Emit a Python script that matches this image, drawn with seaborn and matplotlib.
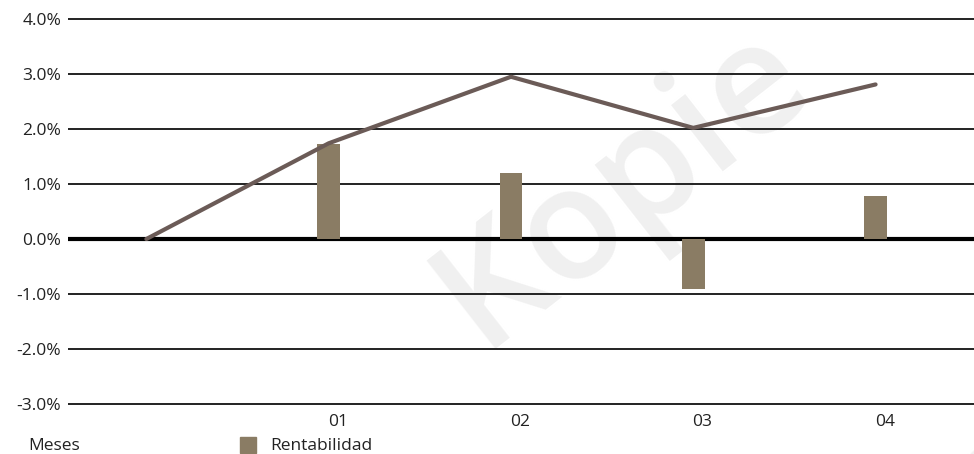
import seaborn as sns
import matplotlib.pyplot as plt
import numpy as np
import pandas as pd

# rentabilidad mensual (%) y rentabilidad acumulada (%)
meses = ['', '01', '02', '03', '04']
rent_mensual = [1.73, 1.20, -0.91, 0.78]
rent_acum = [0.0, 1.74, 2.95, 2.02, 2.81]
yticks = [-3, -2, -1, 0, 1, 2, 3, 4]

sns.set_style('white')
plt.rcParams['font.family'] = ['Open Sans', 'DejaVu Sans']

pos = np.arange(len(meses))
df_bar = pd.DataFrame({'pos': pos[1:], 'rent': rent_mensual})
df_line = pd.DataFrame({'pos': pos, 'acum': rent_acum})

fig = plt.figure(figsize=(9.74, 4.54), dpi=100)
ax = fig.add_axes([68/974, (454-406.75)/454, 1-68/974, 390.5/454])

# marca de agua (detras de todo)
for (x, y) in [(0.64, 0.59), (1.08, 0.04)]:
    ax.text(x, y, 'Kopie', fontsize=112, color='#f0f0f0', rotation=38,
            ha='center', va='center', zorder=0, transform=fig.transFigure,
            clip_on=False, fontweight='semibold')

for t in yticks:
    ax.axhline(t, color='black' if t == 0 else '#222222',
               lw=3 if t == 0 else 1.4, zorder=1)

sns.barplot(data=df_bar, x='pos', y='rent', native_scale=True, width=0.125,
            color='#8a7c64', saturation=1, linewidth=0, ax=ax, zorder=2)
sns.lineplot(data=df_line, x='pos', y='acum', color='#6b5b57', lw=3,
             ax=ax, zorder=3)

ax.set_xlim(-0.43, 4.54)
ax.set_ylim(-3.05, 4.05)
ax.set_yticks(yticks)
ax.set_yticklabels(['%.1f%%' % t for t in yticks])
ax.set_xticks(pos[1:] + 0.05)
ax.set_xticklabels(meses[1:])
ax.tick_params(axis='both', length=0, labelsize=12.5, colors='#222222')
ax.tick_params(axis='y', pad=5)
ax.tick_params(axis='x', pad=5)
ax.set_xlabel('')
ax.set_ylabel('')
for s in ax.spines.values():
    s.set_visible(False)

fig.text(28/974, 1-446/454, 'Meses', fontsize=12.5, color='#222222', va='center')
fig.patches.append(plt.Rectangle((240/974, 1-453/454), 16/974, 16/454,
                                 transform=fig.transFigure, color='#8a7c64'))
fig.text(270/974, 1-446/454, 'Rentabilidad', fontsize=12.5, color='#222222',
         va='center')

plt.savefig('out.png', dpi=100)
